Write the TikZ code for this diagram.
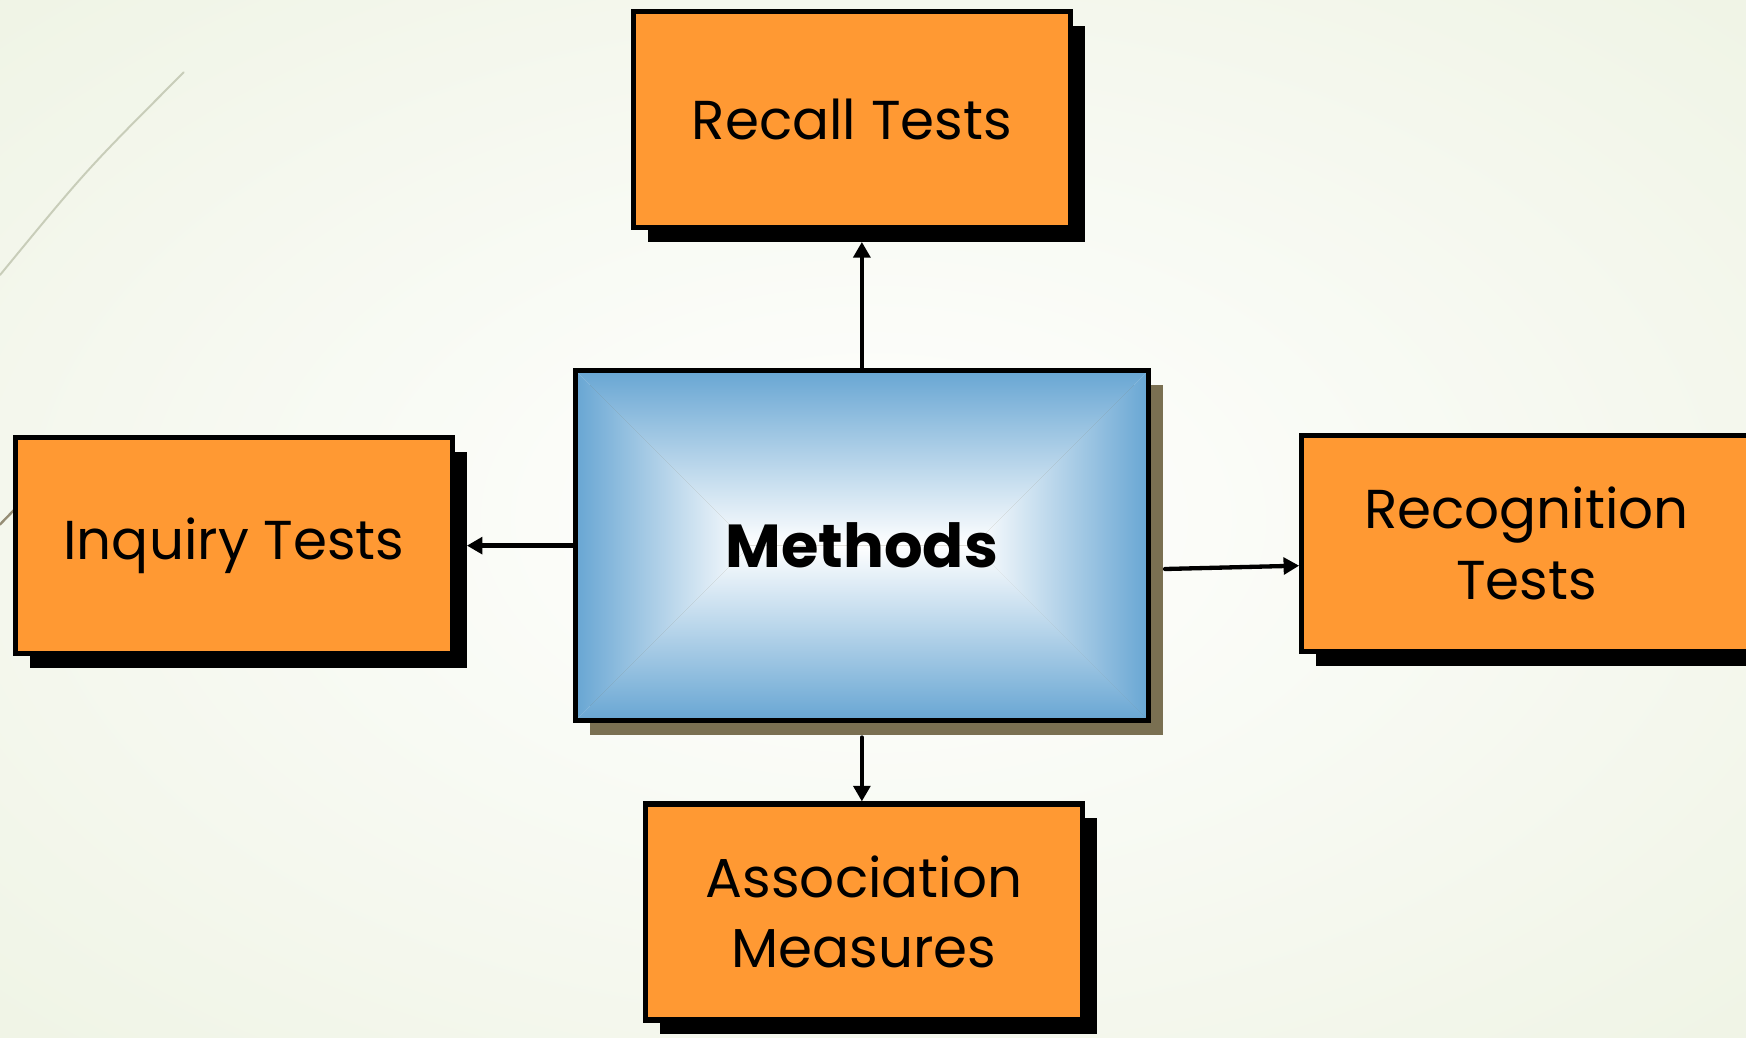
\documentclass[tikz,border=0pt]{standalone}
\usepackage{fontspec}
\setmainfont{Poppins}
\usetikzlibrary{calc,shadows,arrows.meta}
\definecolor{boxorange}{RGB}{255,153,51}
\definecolor{edgeblue}{RGB}{104,166,211}
\definecolor{shadowolive}{RGB}{122,112,82}
\definecolor{bggreen}{RGB}{224,233,204}
\definecolor{leafline}{RGB}{200,205,185}
\begin{document}
\begin{tikzpicture}[line cap=round,>={Triangle[length=1.4mm,width=1.5mm]},
testbox/.style={draw,line width=1.3pt,fill=boxorange,minimum width=3.92cm,minimum height=1.94cm,align=center,font=\fontsize{14}{18}\selectfont,drop shadow={fill=black,opacity=1,shadow xshift=.13cm,shadow yshift=-.13cm}},
link/.style={->,line width=1.1pt}]
\useasboundingbox (0,0) rectangle (15.68,9.32);
\clip (0,0) rectangle (15.68,9.32);
%%Nen
\shade[inner color=white,outer color=bggreen] (-14.33,-8.52) rectangle (30.01,17.84);
\draw[line width=.5pt,leafline] (0,6.85) .. controls (0.78,7.8) .. (1.65,8.67);
\draw[line width=.6pt,shadowolive!80] (0,4.61) -- (0.3,4.92);
%%Hop giua
\node[draw,line width=1.3pt,minimum width=5.14cm,minimum height=3.14cm,font=\fontsize{15.5}{19}\selectfont\bfseries,
drop shadow={fill=shadowolive,opacity=1,shadow xshift=.13cm,shadow yshift=-.13cm},
path picture={
\coordinate (nw) at (path picture bounding box.north west);
\coordinate (ne) at (path picture bounding box.north east);
\coordinate (sw) at (path picture bounding box.south west);
\coordinate (se) at (path picture bounding box.south east);
\shade[top color=edgeblue,bottom color=white] (nw)--(ne)--($(ne)+(-1.57,-1.57)$)--($(nw)+(1.57,-1.57)$)--cycle;
\shade[bottom color=edgeblue,top color=white] (sw)--(se)--($(se)+(-1.57,1.57)$)--($(sw)+(1.57,1.57)$)--cycle;
\shade[left color=edgeblue,right color=white] (nw)--($(nw)+(1.57,-1.57)$)--(sw)--cycle;
\shade[right color=edgeblue,left color=white] (ne)--($(ne)+(-1.57,-1.57)$)--(se)--cycle;
}] (methods) at (7.74,4.42) {Methods};
%%Bon hop cam
\node[testbox] (recall) at (7.65,8.25) {Recall Tests};
\node[testbox] (inquiry) at (2.10,4.42) {Inquiry Tests};
\node[testbox,minimum width=4.04cm] (recognition) at (13.71,4.44) {Recognition\\Tests};
\node[testbox] (association) at (7.76,1.13) {Association\\Measures};
%%Mui ten
\draw[link,shorten >=.11cm] (methods.north) -- (methods.north |- recall.south);
\draw[link,shorten >=.11cm] (methods.west) -- (inquiry.east);
\draw[link] ([xshift=.13cm,yshift=-.21cm]methods.east) -- ([yshift=-.2cm]recognition.west);
\draw[link,shorten <=.13cm] (methods.south) -- (methods.south |- association.north);
\end{tikzpicture}
\end{document}
